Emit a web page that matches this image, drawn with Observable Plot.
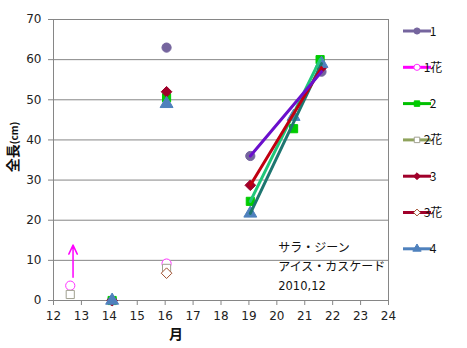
<!DOCTYPE html>
<html><head><meta charset="utf-8">
<script src="https://cdn.jsdelivr.net/npm/d3@7"></script>
<script src="https://cdn.jsdelivr.net/npm/@observablehq/plot@0.6"></script>
<style>
body{margin:0;background:#fff;}
#chart{position:relative;width:467px;height:348px;}
</style></head><body><div id="chart"></div>
<script>
const seriesNames = ["1","1花","2","2花","3","3花","4"];
const s1 = [[14.1,0],[16.05,63],[19.05,36],[21.6,57]];
const s1f = [[12.6,3.7],[16.05,9.2]];
const s2 = [[14.1,0],[16.05,50.5],[19.05,24.7],[20.6,42.8],[21.55,60]];
const s2f = [[12.6,1.5],[16.05,8]];
const s3 = [[14.1,0],[16.05,52],[19.05,28.7],[21.6,58]];
const s3f = [[16.05,6.8]];
const s4 = [[14.1,0],[16.05,49],[19.05,21.7],[20.6,45.8],[21.6,59]];
const lineP = [[19.05,36],[21.6,57]];
const lineR = [[19.05,28.7],[21.6,58]];
const lineG = [[19.05,24.7],[21.55,60]];
const lineT = [[19.05,21.7],[21.6,59]];
const arrowPts = [{x1:12.7,y1:5.8,x2:12.7,y2:13.8}];
const notes = ["サラ・ジーン","アイス・カスケード","2010,12"];
const xTicks = d3.range(12,25);
const yTicks = d3.range(0,80,10);

const styles = {
 "1":{sym:"circle",fill:"#75659e",stroke:"#75659e",line:"#75659e",r:4.6},
 "1花":{sym:"circle",fill:"white",stroke:"#ff33ff",line:"#ff00ff",r:4.6},
 "2":{sym:"square",fill:"#00cc00",stroke:"#00cc00",line:"#00c000",r:4.6},
 "2花":{sym:"square",fill:"white",stroke:"#a0a090",line:"#8fa35c",r:4.6},
 "3":{sym:"diamond2",fill:"#a0002a",stroke:"#a0002a",line:"#a0002a",r:4.8},
 "3花":{sym:"diamond2",fill:"white",stroke:"#a05030",line:"#a0002a",r:4.8},
 "4":{sym:"triangle",fill:"#4f81bd",stroke:"#4f81bd",line:"#4f81bd",r:4.8}
};
const data = [s1,s1f,s2,s2f,s3,s3f,s4];
const dotMarks = data.map((s,i)=>{
  const st = styles[seriesNames[i]];
  return Plot.dot(s,{x:d=>d[0],y:d=>d[1],symbol:()=>st.sym,r:st.r,fill:st.fill,stroke:st.stroke,strokeWidth:1});
});
const lm = (pts,c)=>Plot.line(pts,{x:d=>d[0],y:d=>d[1],stroke:c,strokeWidth:3});

const plot = Plot.plot({
  width:467,height:348,
  marginLeft:53,marginRight:79,marginTop:19,marginBottom:48,
  x:{domain:[12,24]},
  y:{domain:[0,70]},
  style:{fontFamily:"DejaVu Sans, Verdana, sans-serif",fontSize:"11px",color:"#222"},
  marks:[
    Plot.ruleY(yTicks.filter(d=>d>0),{stroke:"#868686",strokeWidth:1}),
    Plot.ruleX([24],{stroke:"#868686"}),
    Plot.ruleX([12],{stroke:"#868686"}),
    Plot.ruleY([0],{stroke:"#868686"}),
    Plot.axisY({ticks:yTicks,tickSize:5,tickPadding:7,label:null,stroke:"#868686",fontSize:12}),
    Plot.axisX({ticks:xTicks,tickSize:5,tickPadding:6,label:null,stroke:"#868686",fontSize:12}),
    ...dotMarks,
    lm(lineT,"#1e7670"),
    lm(lineG,"#1fc77a"),
    lm(lineR,"#c00010"),
    lm(lineP,"#6a0fcc"),
    Plot.arrow(arrowPts,{x1:"x1",y1:"y1",x2:"x2",y2:"y2",stroke:"#ff00ff",strokeWidth:1.5,headLength:10,headAngle:50}),
    Plot.text([notes[0]],{x:()=>20.05,y:()=>13.0,text:d=>d,textAnchor:"start",fontSize:12,fontFamily:"Noto Sans CJK JP",fill:"#111"}),
    Plot.text([notes[1]],{x:()=>20.05,y:()=>8.2,text:d=>d,textAnchor:"start",fontSize:12,fontFamily:"Noto Sans CJK JP",fill:"#111"}),
    Plot.text([notes[2]],{x:()=>20.05,y:()=>3.6,text:d=>d,textAnchor:"start",fontSize:11.5,fontFamily:"DejaVu Sans",fill:"#111"})
  ]
});
document.getElementById("chart").appendChild(plot);
const svg = d3.select(plot);
svg.append("text").attr("x",176).attr("y",339).attr("text-anchor","middle")
  .attr("font-family","Noto Sans CJK JP").attr("font-weight","bold").attr("font-size",14).attr("fill","#111").text("月");
const yt = svg.append("text").attr("transform","translate(18,147) rotate(-90)").attr("text-anchor","middle")
  .attr("font-family","Noto Sans CJK JP").attr("font-weight","bold").attr("fill","#111");
yt.append("tspan").attr("font-size",14).text("全長");
yt.append("tspan").attr("font-size",10).text("(cm)");
const leg = svg.append("g");
const symMap = {circle:d3.symbolCircle,square:d3.symbolSquare,diamond2:d3.symbolDiamond2,triangle:d3.symbolTriangle};
seriesNames.forEach((n,i)=>{
  const st = styles[n];
  const y = 31 + i*36.3;
  leg.append("line").attr("x1",403).attr("x2",431).attr("y1",y).attr("y2",y).attr("stroke",st.line).attr("stroke-width",3);
  leg.append("path").attr("d",d3.symbol(symMap[st.sym], 30)()).attr("transform",`translate(417,${y})`)
    .attr("fill",st.fill).attr("stroke",st.stroke);
  leg.append("text").attr("x",433).attr("y",y+4.5).attr("font-family","Noto Sans CJK JP").attr("font-size",12).attr("fill","#111").text(n);
});
</script></body></html>
